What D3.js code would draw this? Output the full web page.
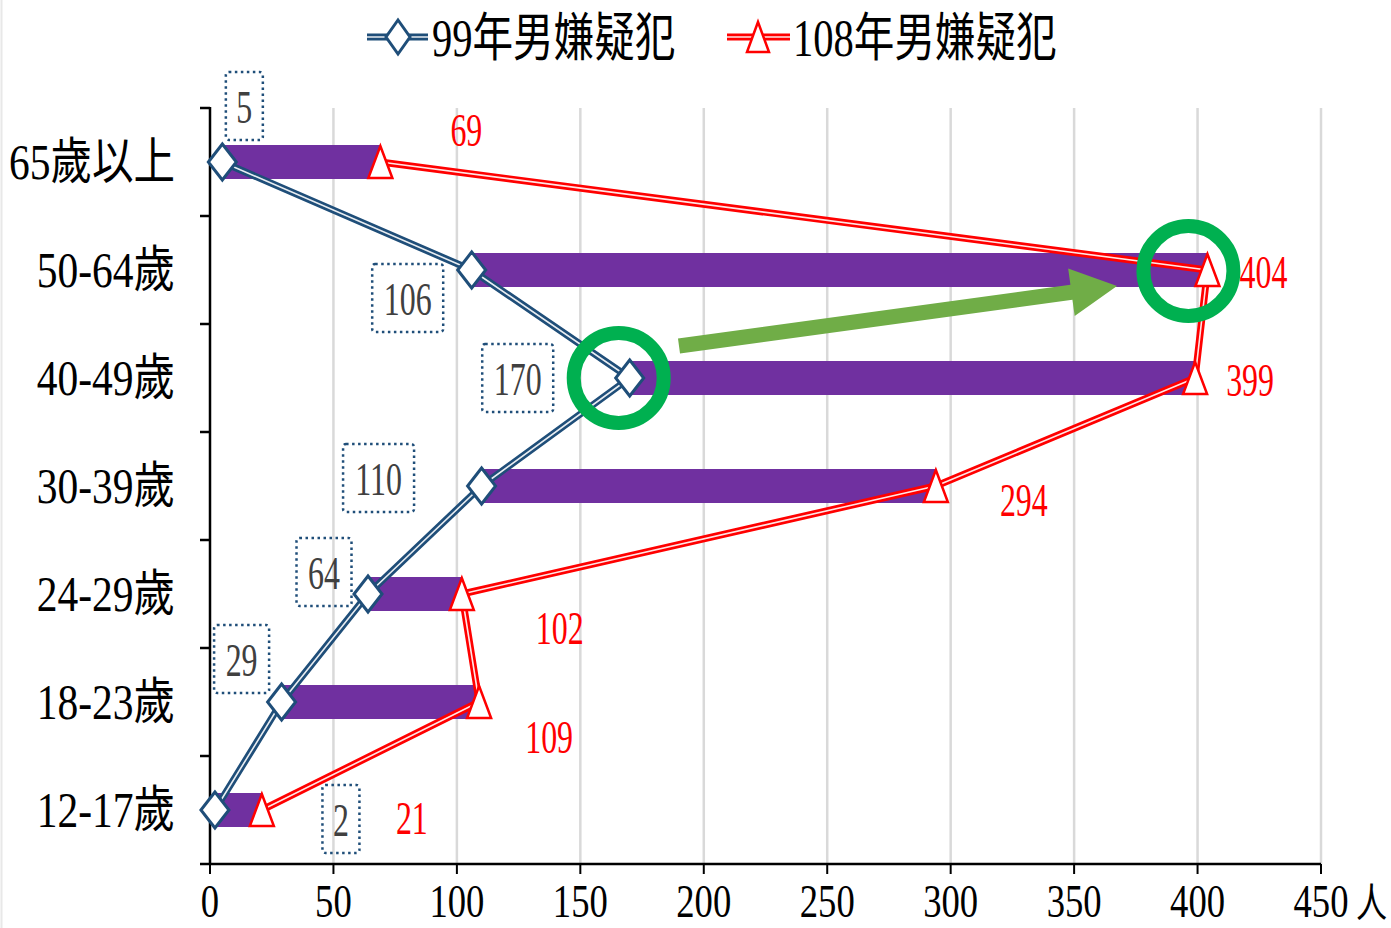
<!DOCTYPE html>
<html>
<head>
<meta charset="utf-8">
<script src="https://cdn.jsdelivr.net/npm/d3@7/dist/d3.min.js"></script>
<style>
html,body{margin:0;padding:0;background:#fff;}
svg{display:block;}
</style>
</head>
<body>
<svg id="chart" width="1391" height="928"></svg>
<script>
// ---- data ----
const categories = ["65歲以上","50-64歲","40-49歲","30-39歲","24-29歲","18-23歲","12-17歲"];
const seriesNames = ["99年男嫌疑犯","108年男嫌疑犯"];
const values99  = [5,106,170,110,64,29,2];
const values108 = [69,404,399,294,102,109,21];
const xTicks = [0,50,100,150,200,250,300,350,400,450];
const xUnit = "人";

// ---- layout (label placement offsets, px) ----
const off99  = [[22,-56],[-64,28],[-112,0],[-103,-8],[-44,-22],[-40,-43],[126,9]];
const off108 = [[86,-33],[56,1],[55,1],[88,13],[98,33],[70,34],[150,7]];

const FONT = "'Liberation Serif','Noto Sans CJK TC',serif";
const BLUE = "#1F4E79", RED = "#FF0000", PURPLE = "#7030A0";
const svg = d3.select("#chart");

const x = d3.scaleLinear().domain([0,450]).range([210,1321]);
const y = d3.scaleBand().domain(categories).range([108,864]).paddingInner(0).paddingOuter(0);
const cy = c => y(c) + y.bandwidth()/2;

// condensed text helper
function ctext(g, tx, ty, str, opts){
  const t = g.append("text")
    .attr("transform", `translate(${tx},${ty}) scale(${opts.sx||0.7},1)`)
    .attr("text-anchor", opts.anchor||"middle")
    .attr("font-family", FONT)
    .attr("font-size", opts.size||48)
    .attr("fill", opts.fill||"#000")
    .text(str);
  return t;
}

// faint left border
svg.append("line").attr("x1",1.5).attr("x2",1.5).attr("y1",0).attr("y2",928)
  .attr("stroke","#e8e8e8").attr("stroke-width",2);

// gridlines
svg.append("g").selectAll("line").data(xTicks.filter(d=>d>0)).join("line")
  .attr("x1",d=>x(d)).attr("x2",d=>x(d)).attr("y1",108).attr("y2",864)
  .attr("stroke","#D9D9D9").attr("stroke-width",2.5);

// bars
const rows = categories.map((c,i)=>({c, a:values99[i], b:values108[i], i}));
svg.append("g").selectAll("rect").data(rows).join("rect")
  .attr("x",d=>x(Math.min(d.a,d.b)))
  .attr("width",d=>Math.abs(x(d.b)-x(d.a)))
  .attr("y",d=>cy(d.c)-17).attr("height",34)
  .attr("fill",PURPLE);

// axes
const ax = svg.append("g").attr("fill","none").attr("stroke","#000");
ax.append("line").attr("x1",x(0)).attr("x2",x(0)).attr("y1",107).attr("y2",865).attr("stroke-width",2.5);
ax.append("line").attr("x1",x(0)-1).attr("x2",x(450)).attr("y1",864).attr("y2",864).attr("stroke-width",2.5);
const bounds = categories.map(c=>y(c)).concat([864]);
ax.selectAll("line.yt").data(bounds).join("line").attr("class","yt")
  .attr("x1",x(0)-10).attr("x2",x(0)).attr("y1",d=>d).attr("y2",d=>d).attr("stroke-width",2.5);
ax.selectAll("line.xt").data(xTicks).join("line").attr("class","xt")
  .attr("x1",d=>x(d)).attr("x2",d=>x(d)).attr("y1",864).attr("y2",874).attr("stroke-width",2);

// x tick labels
const xl = svg.append("g");
xTicks.forEach(d=>ctext(xl, x(d), 917, String(d), {size:47, sx:0.78}));
ctext(xl, x(450)+35, 917, xUnit, {size:40, sx:0.78, anchor:"start"});

// category labels
const yl = svg.append("g");
categories.forEach(c=>ctext(yl, 175, cy(c)+17, c, {size:50, sx:0.83, anchor:"end"}));

// lines
function compound(g, pts, color){
  const line = d3.line().x(p=>p[0]).y(p=>p[1]);
  g.append("path").attr("d",line(pts)).attr("fill","none").attr("stroke",color)
    .attr("stroke-width",7).attr("stroke-linejoin","round");
  g.append("path").attr("d",line(pts)).attr("fill","none").attr("stroke","#fff")
    .attr("stroke-width",1.6).attr("stroke-linejoin","round").attr("opacity",0.9);
}
const lg = svg.append("g");
compound(lg, rows.map(d=>[x(d.a),cy(d.c)]), BLUE);
compound(lg, rows.map(d=>[x(d.b),cy(d.c)]), RED);

// markers
const diamond = (w,h)=>`M0,${-h/2}L${w/2},0L0,${h/2}L${-w/2},0Z`;
const tri = (w,h)=>`M0,${-h/2}L${w/2},${h/2}L${-w/2},${h/2}Z`;
const mg = svg.append("g");
mg.selectAll("path.d").data(rows).join("path").attr("class","d")
  .attr("transform",d=>`translate(${x(d.a)},${cy(d.c)})`)
  .attr("d",diamond(28,36)).attr("fill","#fff").attr("stroke",BLUE).attr("stroke-width",3);
mg.selectAll("path.t").data(rows).join("path").attr("class","t")
  .attr("transform",d=>`translate(${x(d.b)},${cy(d.c)})`)
  .attr("d",tri(24,32)).attr("fill","#fff").attr("stroke",RED).attr("stroke-width",2.5)
  .attr("stroke-linejoin","miter");

// data labels 99 (boxed)
const bl = svg.append("g");
rows.forEach((d,i)=>{
  const cx = x(d.a)+off99[i][0], cyy = cy(d.c)+off99[i][1];
  const s = String(d.a);
  const w = s.length===1?37:(s.length===2?55:71);
  bl.append("rect").attr("x",cx-w/2).attr("y",cyy-34).attr("width",w).attr("height",68)
    .attr("rx",3).attr("fill","none").attr("stroke",BLUE).attr("stroke-width",2.5)
    .attr("stroke-dasharray","2.5,3.5");
  ctext(bl, cx, cyy+17, s, {size:47, sx:0.68, fill:"#404040"});
});
// data labels 108
const rl = svg.append("g");
rows.forEach((d,i)=>{
  ctext(rl, x(d.b)+off108[i][0], cy(d.c)+off108[i][1]+17, String(d.b), {size:47, sx:0.68, fill:RED});
});

// annotations: green circles & arrow
const ann = svg.append("g");
const c1 = [x(170)-11, cy("40-49歲")], c2 = [x(404)-19, cy("50-64歲")+1];
[c1,c2].forEach(c=>ann.append("circle").attr("cx",c[0]).attr("cy",c[1]).attr("r",45)
  .attr("fill","none").attr("stroke","#00B050").attr("stroke-width",14));
const a0=[679,346], a1=[1117,286];
const ang = Math.atan2(a1[1]-a0[1], a1[0]-a0[0]);
const ux=Math.cos(ang), uy=Math.sin(ang), nx=-uy, ny=ux;
const headL=46, headW=24, shaftW=7.5;
const b=[a1[0]-ux*headL, a1[1]-uy*headL];
const poly=[
  [a0[0]+nx*shaftW, a0[1]+ny*shaftW],
  [b[0]+nx*shaftW, b[1]+ny*shaftW],
  [b[0]+nx*headW, b[1]+ny*headW],
  a1,
  [b[0]-nx*headW, b[1]-ny*headW],
  [b[0]-nx*shaftW, b[1]-ny*shaftW],
  [a0[0]-nx*shaftW, a0[1]-ny*shaftW]
];
ann.append("path").attr("d","M"+poly.map(p=>p.join(",")).join("L")+"Z").attr("fill","#70AD47");

// legend
const leg = svg.append("g");
compound(leg, [[367,37],[428,37]], BLUE);
leg.append("path").attr("transform","translate(398,37)").attr("d",diamond(24,34))
  .attr("fill","#fff").attr("stroke",BLUE).attr("stroke-width",3);
ctext(leg, 432, 56, seriesNames[0], {size:52, sx:0.78, anchor:"start"});
compound(leg, [[727,37],[790,37]], RED);
leg.append("path").attr("transform","translate(758,37)").attr("d",tri(22,30))
  .attr("fill","#fff").attr("stroke",RED).attr("stroke-width",2.5);
ctext(leg, 793, 56, seriesNames[1], {size:52, sx:0.78, anchor:"start"});
</script>
</body>
</html>
